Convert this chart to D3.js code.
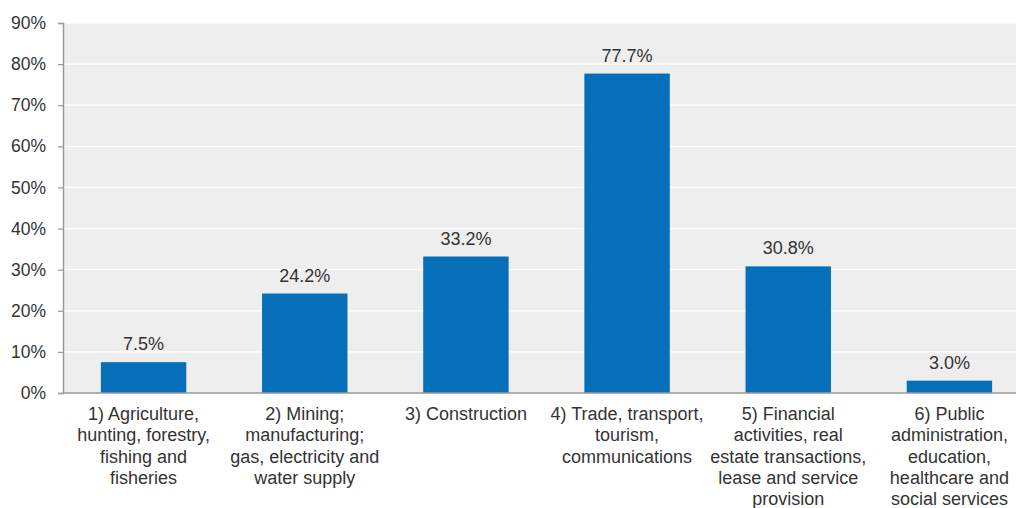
<!DOCTYPE html>
<html>
<head>
<meta charset="utf-8">
<script src="https://cdn.jsdelivr.net/npm/d3@7"></script>
<style>
  html, body { margin: 0; padding: 0; background: #fff; }
  svg { display: block; font-family: "Liberation Sans", Arial, sans-serif; }
</style>
</head>
<body>
<svg id="chart" width="1016" height="508"></svg>
<script>
// Share of enterprises by sector
const categories = [
  ["1) Agriculture,", "hunting, forestry,", "fishing and", "fisheries"],
  ["2) Mining;", "manufacturing;", "gas, electricity and", "water supply"],
  ["3) Construction"],
  ["4) Trade, transport,", "tourism,", "communications"],
  ["5) Financial", "activities, real", "estate transactions,", "lease and service", "provision"],
  ["6) Public", "administration,", "education,", "healthcare and", "social services"]
];
const values = [7.5, 24.2, 33.2, 77.7, 30.8, 3.0];
const yTicks = [0, 10, 20, 30, 40, 50, 60, 70, 80, 90];

const svg = d3.select("#chart");
const plotL = 63, plotR = 1030, plotT = 23, plotB = 393;

const x = d3.scaleBand()
  .domain(d3.range(categories.length))
  .range([plotL, plotR])
  .paddingInner(0.47)
  .paddingOuter(0.235);

const y = d3.scaleLinear().domain([0, 90]).range([plotB, plotT]);

// plot background
svg.append("rect")
  .attr("x", plotL).attr("y", plotT)
  .attr("width", plotR - plotL).attr("height", plotB - plotT)
  .attr("fill", "#eeeeee");

// horizontal gridlines
svg.append("g")
  .selectAll("line")
  .data(yTicks.filter(d => d > 0))
  .join("line")
  .attr("x1", plotL).attr("x2", plotR)
  .attr("y1", d => y(d)).attr("y2", d => y(d))
  .attr("stroke", "#ffffff").attr("stroke-width", 1.2);

// bars
svg.append("g")
  .selectAll("rect")
  .data(values)
  .join("rect")
  .attr("x", (d, i) => x(i))
  .attr("y", d => y(d))
  .attr("width", x.bandwidth())
  .attr("height", d => y(0) - y(d))
  .attr("fill", "#0570b9");

// value labels
svg.append("g")
  .selectAll("text")
  .data(values)
  .join("text")
  .attr("x", (d, i) => x(i) + x.bandwidth() / 2)
  .attr("y", d => y(d) - 12)
  .attr("text-anchor", "middle")
  .attr("font-size", 18)
  .attr("fill", "#333")
  .text(d => d.toFixed(1) + "%");

// y axis
const yAxis = d3.axisLeft(y)
  .tickValues(yTicks)
  .tickSize(5)
  .tickPadding(12)
  .tickFormat(d => d + "%");

const gy = svg.append("g")
  .attr("transform", `translate(${plotL},0)`)
  .call(yAxis);
gy.select(".domain").attr("stroke", "#999").attr("stroke-width", 1.5);
gy.selectAll(".tick line").attr("stroke", "#999").attr("stroke-width", 1.2);
gy.selectAll(".tick text")
  .attr("font-size", 17.5)
  .attr("font-family", "Liberation Sans, Arial, sans-serif")
  .attr("fill", "#333");

// x axis baseline
svg.append("line")
  .attr("x1", plotL).attr("x2", plotR)
  .attr("y1", plotB).attr("y2", plotB)
  .attr("stroke", "#999").attr("stroke-width", 1.5);

// category labels
const catG = svg.append("g");
categories.forEach((lines, i) => {
  const cx = x(i) + x.bandwidth() / 2;
  const t = catG.append("text")
    .attr("x", cx)
    .attr("y", 420)
    .attr("text-anchor", "middle")
    .attr("font-size", 18)
    .attr("fill", "#333");
  lines.forEach((ln, j) => {
    t.append("tspan")
      .attr("x", cx)
      .attr("dy", j === 0 ? 0 : 21.3)
      .text(ln);
  });
});
</script>
</body>
</html>
